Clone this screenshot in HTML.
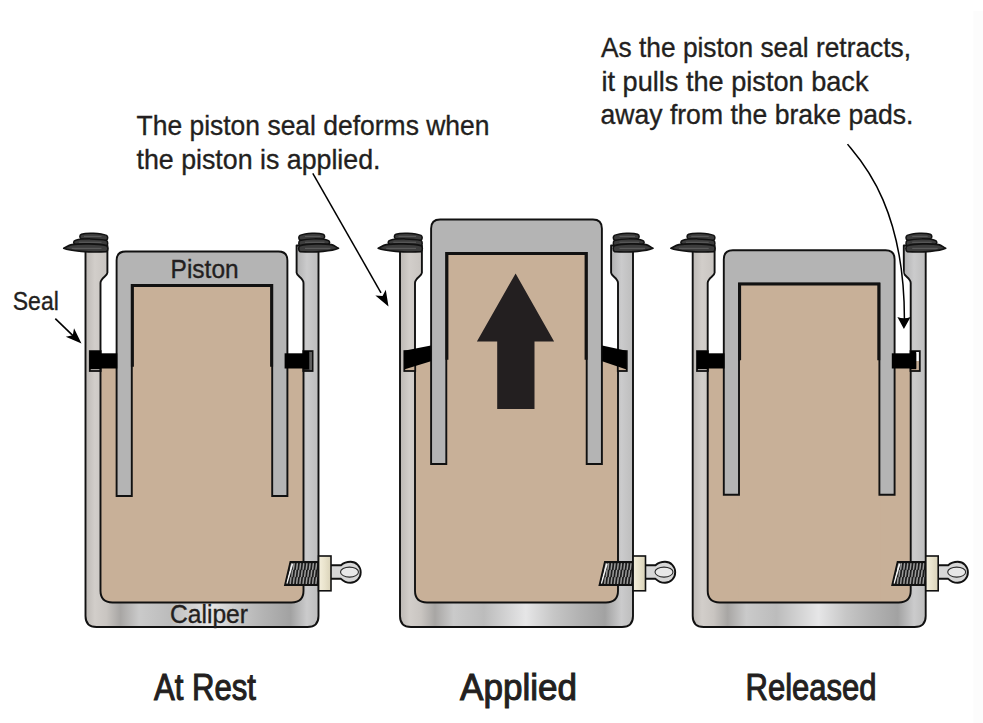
<!DOCTYPE html><html><head><meta charset="utf-8"><style>html,body{margin:0;padding:0;background:#fff;}svg{display:block;}</style></head><body><svg width="983" height="723" viewBox="0 0 983 723">
<defs>
<linearGradient id="calga" gradientUnits="userSpaceOnUse" x1="85.5" y1="0" x2="318.5" y2="0"><stop offset="0" stop-color="#BDB9B5"/><stop offset="0.04" stop-color="#D2CECA"/><stop offset="0.09" stop-color="#C9C5C1"/><stop offset="0.15" stop-color="#A8A6A4"/><stop offset="0.23" stop-color="#CACACA"/><stop offset="0.36" stop-color="#BCBCBC"/><stop offset="0.54" stop-color="#E6E6E7"/><stop offset="0.66" stop-color="#C6C6C6"/><stop offset="0.76" stop-color="#B4B4B4"/><stop offset="0.88" stop-color="#A2A2A2"/><stop offset="0.95" stop-color="#CBCBCC"/><stop offset="1" stop-color="#BDBDBD"/></linearGradient>
<linearGradient id="calgb" gradientUnits="userSpaceOnUse" x1="400" y1="0" x2="633" y2="0"><stop offset="0" stop-color="#BDB9B5"/><stop offset="0.04" stop-color="#D2CECA"/><stop offset="0.09" stop-color="#C9C5C1"/><stop offset="0.15" stop-color="#A8A6A4"/><stop offset="0.23" stop-color="#CACACA"/><stop offset="0.36" stop-color="#BCBCBC"/><stop offset="0.54" stop-color="#E6E6E7"/><stop offset="0.66" stop-color="#C6C6C6"/><stop offset="0.76" stop-color="#B4B4B4"/><stop offset="0.88" stop-color="#A2A2A2"/><stop offset="0.95" stop-color="#CBCBCC"/><stop offset="1" stop-color="#BDBDBD"/></linearGradient>
<linearGradient id="calgc" gradientUnits="userSpaceOnUse" x1="692.7" y1="0" x2="925.7" y2="0"><stop offset="0" stop-color="#BDB9B5"/><stop offset="0.04" stop-color="#D2CECA"/><stop offset="0.09" stop-color="#C9C5C1"/><stop offset="0.15" stop-color="#A8A6A4"/><stop offset="0.23" stop-color="#CACACA"/><stop offset="0.36" stop-color="#BCBCBC"/><stop offset="0.54" stop-color="#E6E6E7"/><stop offset="0.66" stop-color="#C6C6C6"/><stop offset="0.76" stop-color="#B4B4B4"/><stop offset="0.88" stop-color="#A2A2A2"/><stop offset="0.95" stop-color="#CBCBCC"/><stop offset="1" stop-color="#BDBDBD"/></linearGradient>
<linearGradient id="nutg" x1="0" y1="0" x2="1" y2="0"><stop offset="0" stop-color="#F4EFDD"/><stop offset="0.5" stop-color="#E9E3CC"/><stop offset="1" stop-color="#D9D2B8"/></linearGradient>
<linearGradient id="gwb" x1="0" y1="0" x2="0" y2="1"><stop offset="0" stop-color="#fff"/><stop offset="0.48" stop-color="#fff"/><stop offset="0.48" stop-color="#C8B098"/><stop offset="1" stop-color="#C8B098"/></linearGradient>
<linearGradient id="gdk" x1="0" y1="0" x2="1" y2="0"><stop offset="0" stop-color="#222"/><stop offset="0.6" stop-color="#333"/><stop offset="1" stop-color="#9a9a9a"/></linearGradient>
</defs>
<rect width="983" height="723" fill="#fff"/><rect x="973.5" y="11" width="10" height="712" fill="#FCFCFC"/>
<path d="M100,360 L304,360 L304,590 Q304,603 291,603 L113,603 Q100,603 100,590 Z" fill="#C8B098"/>
<path d="M85.5,245.5 L107.4,245.5 L107.4,272.8 C107.4,276 100.5,278 100.5,283 L100.5,590.8 Q100.5,602.5 112.5,602.5 L291.5,602.5 Q303.5,602.5 303.5,590.8 L303.5,283 C303.5,278 296.6,276 296.6,272.8 L296.6,245.5 L318.5,245.5 L318.5,616 Q318.5,627 307.5,627 L96.5,627 Q85.5,627 85.5,616 Z" fill="url(#calga)" stroke="#111" stroke-width="1.9" stroke-linejoin="round"/>
<rect x="131" y="285" width="142" height="315" fill="#C8B098"/>
<path d="M116.6,496 L116.6,260.5 Q116.6,251.5 125.6,251.5 L278.4,251.5 Q287.4,251.5 287.4,260.5 L287.4,496 L272.2,496 L272.2,285 L131.8,285 L131.8,496 Z" fill="#B4B4B4" stroke="#111" stroke-width="1.9" stroke-linejoin="miter"/>
<path d="M132.4,366.8 L132.4,285.4 L271.6,285.4 L271.6,366.8" fill="none" stroke="#111" stroke-width="3.0"/>
<rect x="89.8" y="351.1" width="10.9" height="19.9" fill="none" stroke="#111" stroke-width="1.8"/>
<rect x="89.8" y="353.3" width="27.5" height="15.2" fill="#000"/>
<rect x="89.8" y="351.1" width="10.9" height="18.1" fill="#000"/>
<rect x="303.3" y="351.1" width="9.3" height="19.9" fill="url(#gdk)" stroke="#111" stroke-width="1.8"/>
<rect x="284.6" y="353.3" width="24.4" height="15.2" fill="#000"/>
<rect x="303.3" y="351.1" width="5.7" height="18.1" fill="#000"/>
<path d="M106.5,240.2 C108.1,239 108.1,236.4 106.5,235.4 C100.5,232.8 86,232.6 81.5,234.2 C79.4,235 79.4,237.6 81,238.6 C86,240.6 98.5,240.8 106.5,240.2 Z" fill="#3C3C3C" stroke="#111" stroke-width="1.5" stroke-linejoin="round"/>
<path d="M101.5,236.4 L84,236.4" stroke="#5C5C5C" stroke-width="1.1"/>
<path d="M106.5,246 C108.1,244.6 108.1,241.6 106.5,240.4 C98.5,238.4 81.8,238.4 75.8,240.2 C73,241 73,243.4 75.3,244.4 C81.8,246.4 98.5,246.6 106.5,246 Z" fill="#3C3C3C" stroke="#111" stroke-width="1.5" stroke-linejoin="round"/>
<path d="M101.5,242.3 L78.8,242.3" stroke="#5C5C5C" stroke-width="1.1"/>
<path d="M106.5,251.6 C108.3,250.4 108.3,246.8 106.5,245.6 C98.5,243.6 79.8,243.4 71.8,244.6 C68.8,245.2 66.7,246.8 63.7,248.3 C69.7,251 90.5,252.8 106.5,251.6 Z" fill="#3C3C3C" stroke="#111" stroke-width="1.6" stroke-linejoin="round"/>
<path d="M101.5,248.4 L71.7,248.4" stroke="#5C5C5C" stroke-width="1.1"/>
<path d="M300,240.2 C298.4,239 298.4,236.4 300,235.4 C306,232.8 318.5,232.6 323,234.2 C325.1,235 325.1,237.6 323.5,238.6 C318.5,240.6 308,240.8 300,240.2 Z" fill="#3C3C3C" stroke="#111" stroke-width="1.5" stroke-linejoin="round"/>
<path d="M305,236.4 L320.5,236.4" stroke="#5C5C5C" stroke-width="1.1"/>
<path d="M300,246 C298.4,244.6 298.4,241.6 300,240.4 C308,238.4 321.5,238.4 327.5,240.2 C330.3,241 330.3,243.4 328,244.4 C321.5,246.4 308,246.6 300,246 Z" fill="#3C3C3C" stroke="#111" stroke-width="1.5" stroke-linejoin="round"/>
<path d="M305,242.3 L324.5,242.3" stroke="#5C5C5C" stroke-width="1.1"/>
<path d="M300,251.6 C298.2,250.4 298.2,246.8 300,245.6 C308,243.6 323.5,243.4 331.5,244.6 C334.5,245.2 335.5,246.8 338.5,248.3 C332.5,251 316,252.8 300,251.6 Z" fill="#3C3C3C" stroke="#111" stroke-width="1.6" stroke-linejoin="round"/>
<path d="M305,248.4 L330.5,248.4" stroke="#5C5C5C" stroke-width="1.1"/>
<clipPath id="thra"><path d="M290.4,562 L318.3,562 L318.3,585 L285,585 Z"/></clipPath>
<path d="M290.4,562 L318.3,562 L318.3,585 L285,585 Z" fill="#1a1a1a"/>
<path clip-path="url(#thra)" d="M290.9,563.8 L290.3,569.2 M294.1,563.8 L293.5,569.2 M297.3,563.8 L296.7,569.2 M300.5,563.8 L299.9,569.2 M303.7,563.8 L303.1,569.2 M306.9,563.8 L306.3,569.2 M310.1,563.8 L309.5,569.2 M313.3,563.8 L312.7,569.2 M316.5,563.8 L315.9,569.2 M319.7,563.8 L319.1,569.2 M292.5,570.6 L291.9,576.4 M295.7,570.6 L295.1,576.4 M298.9,570.6 L298.3,576.4 M302.1,570.6 L301.5,576.4 M305.3,570.6 L304.7,576.4 M308.5,570.6 L307.9,576.4 M311.7,570.6 L311.1,576.4 M314.9,570.6 L314.3,576.4 M318.1,570.6 L317.5,576.4 M321.3,570.6 L320.7,576.4 M290.9,577.8 L290.3,583.4 M294.1,577.8 L293.5,583.4 M297.3,577.8 L296.7,583.4 M300.5,577.8 L299.9,583.4 M303.7,577.8 L303.1,583.4 M306.9,577.8 L306.3,583.4 M310.1,577.8 L309.5,583.4 M313.3,577.8 L312.7,583.4 M316.5,577.8 L315.9,583.4 M319.7,577.8 L319.1,583.4" stroke="#9a9a9a" stroke-width="1.5" stroke-linecap="round" fill="none"/>
<path d="M286.7,583.6 L292.5,563.6" stroke="#f4f4f4" stroke-width="1.7"/>
<path d="M290.4,562 L318.3,562 L318.3,585 L285,585 Z" fill="none" stroke="#111" stroke-width="1.8"/>
<path d="M330,565.3 L341,565.3 C343,563.5 346,561.8 350.5,561.8 C356.3,561.8 360.7,566.4 360.7,572.2 C360.7,578 356.3,582.7 350.5,582.7 C346,582.7 343,580.8 341,578.8 L330,578.8 Z" fill="#D7D7D7" stroke="#111" stroke-width="1.9" stroke-linejoin="round"/>
<ellipse cx="349.5" cy="572.1" rx="9" ry="5" fill="#E8E8E8" stroke="#2a2a2a" stroke-width="1.1"/>
<rect x="318.6" y="556" width="12.4" height="34.8" fill="url(#nutg)" stroke="#111" stroke-width="1.6"/>
<path d="M414.5,360 L618.5,360 L618.5,590 Q618.5,603 605.5,603 L427.5,603 Q414.5,603 414.5,590 Z" fill="#C8B098"/>
<path d="M400,245.5 L421.9,245.5 L421.9,272.8 C421.9,276 415,278 415,283 L415,590.8 Q415,602.5 427,602.5 L606,602.5 Q618,602.5 618,590.8 L618,283 C618,278 611.1,276 611.1,272.8 L611.1,245.5 L633,245.5 L633,616 Q633,627 622,627 L411,627 Q400,627 400,616 Z" fill="url(#calgb)" stroke="#111" stroke-width="1.9" stroke-linejoin="round"/>
<rect x="445.5" y="253" width="142" height="347" fill="#C8B098"/>
<path d="M431.1,464 L431.1,228.5 Q431.1,219.5 440.1,219.5 L592.9,219.5 Q601.9,219.5 601.9,228.5 L601.9,464 L586.7,464 L586.7,253 L446.3,253 L446.3,464 Z" fill="#B4B4B4" stroke="#111" stroke-width="1.9" stroke-linejoin="miter"/>
<path d="M446.9,359.7 L446.9,253.4 L586.1,253.4 L586.1,359.7" fill="none" stroke="#111" stroke-width="3.0"/>
<rect x="404.3" y="351.1" width="10.9" height="19.9" fill="#C8B098" stroke="#111" stroke-width="1.8"/>
<path d="M404.1,350.8 L430.9,345.4 L430.9,361.2 L404.1,369.4 Z" fill="#000"/>
<rect x="617.8" y="351.1" width="9" height="19.9" fill="#C8B098" stroke="#111" stroke-width="1.8"/>
<path d="M626.5,350.8 L602.1,345.4 L602.1,361.2 L626.5,369.4 Z" fill="#000"/>
<path d="M421,240.2 C422.6,239 422.6,236.4 421,235.4 C415,232.8 400.5,232.6 396,234.2 C393.9,235 393.9,237.6 395.5,238.6 C400.5,240.6 413,240.8 421,240.2 Z" fill="#3C3C3C" stroke="#111" stroke-width="1.5" stroke-linejoin="round"/>
<path d="M416,236.4 L398.5,236.4" stroke="#5C5C5C" stroke-width="1.1"/>
<path d="M421,246 C422.6,244.6 422.6,241.6 421,240.4 C413,238.4 396.3,238.4 390.3,240.2 C387.5,241 387.5,243.4 389.8,244.4 C396.3,246.4 413,246.6 421,246 Z" fill="#3C3C3C" stroke="#111" stroke-width="1.5" stroke-linejoin="round"/>
<path d="M416,242.3 L393.3,242.3" stroke="#5C5C5C" stroke-width="1.1"/>
<path d="M421,251.6 C422.8,250.4 422.8,246.8 421,245.6 C413,243.6 394.3,243.4 386.3,244.6 C383.3,245.2 381.2,246.8 378.2,248.3 C384.2,251 405,252.8 421,251.6 Z" fill="#3C3C3C" stroke="#111" stroke-width="1.6" stroke-linejoin="round"/>
<path d="M416,248.4 L386.2,248.4" stroke="#5C5C5C" stroke-width="1.1"/>
<path d="M614.5,240.2 C612.9,239 612.9,236.4 614.5,235.4 C620.5,232.8 633,232.6 637.5,234.2 C639.6,235 639.6,237.6 638,238.6 C633,240.6 622.5,240.8 614.5,240.2 Z" fill="#3C3C3C" stroke="#111" stroke-width="1.5" stroke-linejoin="round"/>
<path d="M619.5,236.4 L635,236.4" stroke="#5C5C5C" stroke-width="1.1"/>
<path d="M614.5,246 C612.9,244.6 612.9,241.6 614.5,240.4 C622.5,238.4 636,238.4 642,240.2 C644.8,241 644.8,243.4 642.5,244.4 C636,246.4 622.5,246.6 614.5,246 Z" fill="#3C3C3C" stroke="#111" stroke-width="1.5" stroke-linejoin="round"/>
<path d="M619.5,242.3 L639,242.3" stroke="#5C5C5C" stroke-width="1.1"/>
<path d="M614.5,251.6 C612.7,250.4 612.7,246.8 614.5,245.6 C622.5,243.6 638,243.4 646,244.6 C649,245.2 650,246.8 653,248.3 C647,251 630.5,252.8 614.5,251.6 Z" fill="#3C3C3C" stroke="#111" stroke-width="1.6" stroke-linejoin="round"/>
<path d="M619.5,248.4 L645,248.4" stroke="#5C5C5C" stroke-width="1.1"/>
<path d="M515.6,273.5 L476.9,341.4 L497.2,341.4 L497.2,409 L534.5,409 L534.5,341.4 L554.1,341.4 Z" fill="#231F20"/>
<clipPath id="thrb"><path d="M604.9,562 L632.8,562 L632.8,585 L599.5,585 Z"/></clipPath>
<path d="M604.9,562 L632.8,562 L632.8,585 L599.5,585 Z" fill="#1a1a1a"/>
<path clip-path="url(#thrb)" d="M605.4,563.8 L604.8,569.2 M608.6,563.8 L608,569.2 M611.8,563.8 L611.2,569.2 M615,563.8 L614.4,569.2 M618.2,563.8 L617.6,569.2 M621.4,563.8 L620.8,569.2 M624.6,563.8 L624,569.2 M627.8,563.8 L627.2,569.2 M631,563.8 L630.4,569.2 M634.2,563.8 L633.6,569.2 M607,570.6 L606.4,576.4 M610.2,570.6 L609.6,576.4 M613.4,570.6 L612.8,576.4 M616.6,570.6 L616,576.4 M619.8,570.6 L619.2,576.4 M623,570.6 L622.4,576.4 M626.2,570.6 L625.6,576.4 M629.4,570.6 L628.8,576.4 M632.6,570.6 L632,576.4 M635.8,570.6 L635.2,576.4 M605.4,577.8 L604.8,583.4 M608.6,577.8 L608,583.4 M611.8,577.8 L611.2,583.4 M615,577.8 L614.4,583.4 M618.2,577.8 L617.6,583.4 M621.4,577.8 L620.8,583.4 M624.6,577.8 L624,583.4 M627.8,577.8 L627.2,583.4 M631,577.8 L630.4,583.4 M634.2,577.8 L633.6,583.4" stroke="#9a9a9a" stroke-width="1.5" stroke-linecap="round" fill="none"/>
<path d="M601.2,583.6 L607,563.6" stroke="#f4f4f4" stroke-width="1.7"/>
<path d="M604.9,562 L632.8,562 L632.8,585 L599.5,585 Z" fill="none" stroke="#111" stroke-width="1.8"/>
<path d="M644.5,565.3 L655.5,565.3 C657.5,563.5 660.5,561.8 665,561.8 C670.8,561.8 675.2,566.4 675.2,572.2 C675.2,578 670.8,582.7 665,582.7 C660.5,582.7 657.5,580.8 655.5,578.8 L644.5,578.8 Z" fill="#D7D7D7" stroke="#111" stroke-width="1.9" stroke-linejoin="round"/>
<ellipse cx="664" cy="572.1" rx="9" ry="5" fill="#E8E8E8" stroke="#2a2a2a" stroke-width="1.1"/>
<rect x="633.1" y="556" width="12.4" height="34.8" fill="url(#nutg)" stroke="#111" stroke-width="1.6"/>
<path d="M707.2,360 L911.2,360 L911.2,590 Q911.2,603 898.2,603 L720.2,603 Q707.2,603 707.2,590 Z" fill="#C8B098"/>
<path d="M692.7,245.5 L714.6,245.5 L714.6,272.8 C714.6,276 707.7,278 707.7,283 L707.7,590.8 Q707.7,602.5 719.7,602.5 L898.7,602.5 Q910.7,602.5 910.7,590.8 L910.7,283 C910.7,278 903.8,276 903.8,272.8 L903.8,245.5 L925.7,245.5 L925.7,616 Q925.7,627 914.7,627 L703.7,627 Q692.7,627 692.7,616 Z" fill="url(#calgc)" stroke="#111" stroke-width="1.9" stroke-linejoin="round"/>
<rect x="738.2" y="283.7" width="142" height="316.3" fill="#C8B098"/>
<path d="M723.8,494.7 L723.8,259.2 Q723.8,250.2 732.8,250.2 L885.6,250.2 Q894.6,250.2 894.6,259.2 L894.6,494.7 L879.4,494.7 L879.4,283.7 L739,283.7 L739,494.7 Z" fill="#B4B4B4" stroke="#111" stroke-width="1.9" stroke-linejoin="miter"/>
<path d="M739.6,360.3 L739.6,284.1 L878.8,284.1 L878.8,360.3" fill="none" stroke="#111" stroke-width="3.0"/>
<rect x="697" y="351.1" width="10.9" height="19.9" fill="none" stroke="#111" stroke-width="1.8"/>
<rect x="697" y="353.3" width="27.5" height="15.2" fill="#000"/>
<rect x="697" y="351.1" width="10.9" height="18.1" fill="#000"/>
<rect x="910.5" y="351.1" width="9.3" height="19.9" fill="url(#gwb)" stroke="#111" stroke-width="1.8"/>
<rect x="891.8" y="353.3" width="24.4" height="15.2" fill="#000"/>
<rect x="910.5" y="351.1" width="5.7" height="18.1" fill="#000"/>
<path d="M713.7,240.2 C715.3,239 715.3,236.4 713.7,235.4 C707.7,232.8 693.2,232.6 688.7,234.2 C686.6,235 686.6,237.6 688.2,238.6 C693.2,240.6 705.7,240.8 713.7,240.2 Z" fill="#3C3C3C" stroke="#111" stroke-width="1.5" stroke-linejoin="round"/>
<path d="M708.7,236.4 L691.2,236.4" stroke="#5C5C5C" stroke-width="1.1"/>
<path d="M713.7,246 C715.3,244.6 715.3,241.6 713.7,240.4 C705.7,238.4 689,238.4 683,240.2 C680.2,241 680.2,243.4 682.5,244.4 C689,246.4 705.7,246.6 713.7,246 Z" fill="#3C3C3C" stroke="#111" stroke-width="1.5" stroke-linejoin="round"/>
<path d="M708.7,242.3 L686,242.3" stroke="#5C5C5C" stroke-width="1.1"/>
<path d="M713.7,251.6 C715.5,250.4 715.5,246.8 713.7,245.6 C705.7,243.6 687,243.4 679,244.6 C676,245.2 673.9,246.8 670.9,248.3 C676.9,251 697.7,252.8 713.7,251.6 Z" fill="#3C3C3C" stroke="#111" stroke-width="1.6" stroke-linejoin="round"/>
<path d="M708.7,248.4 L678.9,248.4" stroke="#5C5C5C" stroke-width="1.1"/>
<path d="M907.2,240.2 C905.6,239 905.6,236.4 907.2,235.4 C913.2,232.8 925.7,232.6 930.2,234.2 C932.3,235 932.3,237.6 930.7,238.6 C925.7,240.6 915.2,240.8 907.2,240.2 Z" fill="#3C3C3C" stroke="#111" stroke-width="1.5" stroke-linejoin="round"/>
<path d="M912.2,236.4 L927.7,236.4" stroke="#5C5C5C" stroke-width="1.1"/>
<path d="M907.2,246 C905.6,244.6 905.6,241.6 907.2,240.4 C915.2,238.4 928.7,238.4 934.7,240.2 C937.5,241 937.5,243.4 935.2,244.4 C928.7,246.4 915.2,246.6 907.2,246 Z" fill="#3C3C3C" stroke="#111" stroke-width="1.5" stroke-linejoin="round"/>
<path d="M912.2,242.3 L931.7,242.3" stroke="#5C5C5C" stroke-width="1.1"/>
<path d="M907.2,251.6 C905.4,250.4 905.4,246.8 907.2,245.6 C915.2,243.6 930.7,243.4 938.7,244.6 C941.7,245.2 942.7,246.8 945.7,248.3 C939.7,251 923.2,252.8 907.2,251.6 Z" fill="#3C3C3C" stroke="#111" stroke-width="1.6" stroke-linejoin="round"/>
<path d="M912.2,248.4 L937.7,248.4" stroke="#5C5C5C" stroke-width="1.1"/>
<clipPath id="thrc"><path d="M897.6,562 L925.5,562 L925.5,585 L892.2,585 Z"/></clipPath>
<path d="M897.6,562 L925.5,562 L925.5,585 L892.2,585 Z" fill="#1a1a1a"/>
<path clip-path="url(#thrc)" d="M898.1,563.8 L897.5,569.2 M901.3,563.8 L900.7,569.2 M904.5,563.8 L903.9,569.2 M907.7,563.8 L907.1,569.2 M910.9,563.8 L910.3,569.2 M914.1,563.8 L913.5,569.2 M917.3,563.8 L916.7,569.2 M920.5,563.8 L919.9,569.2 M923.7,563.8 L923.1,569.2 M926.9,563.8 L926.3,569.2 M899.7,570.6 L899.1,576.4 M902.9,570.6 L902.3,576.4 M906.1,570.6 L905.5,576.4 M909.3,570.6 L908.7,576.4 M912.5,570.6 L911.9,576.4 M915.7,570.6 L915.1,576.4 M918.9,570.6 L918.3,576.4 M922.1,570.6 L921.5,576.4 M925.3,570.6 L924.7,576.4 M928.5,570.6 L927.9,576.4 M898.1,577.8 L897.5,583.4 M901.3,577.8 L900.7,583.4 M904.5,577.8 L903.9,583.4 M907.7,577.8 L907.1,583.4 M910.9,577.8 L910.3,583.4 M914.1,577.8 L913.5,583.4 M917.3,577.8 L916.7,583.4 M920.5,577.8 L919.9,583.4 M923.7,577.8 L923.1,583.4 M926.9,577.8 L926.3,583.4" stroke="#9a9a9a" stroke-width="1.5" stroke-linecap="round" fill="none"/>
<path d="M893.9,583.6 L899.7,563.6" stroke="#f4f4f4" stroke-width="1.7"/>
<path d="M897.6,562 L925.5,562 L925.5,585 L892.2,585 Z" fill="none" stroke="#111" stroke-width="1.8"/>
<path d="M937.2,565.3 L948.2,565.3 C950.2,563.5 953.2,561.8 957.7,561.8 C963.5,561.8 967.9,566.4 967.9,572.2 C967.9,578 963.5,582.7 957.7,582.7 C953.2,582.7 950.2,580.8 948.2,578.8 L937.2,578.8 Z" fill="#D7D7D7" stroke="#111" stroke-width="1.9" stroke-linejoin="round"/>
<ellipse cx="956.7" cy="572.1" rx="9" ry="5" fill="#E8E8E8" stroke="#2a2a2a" stroke-width="1.1"/>
<rect x="925.8" y="556" width="12.4" height="34.8" fill="url(#nutg)" stroke="#111" stroke-width="1.6"/>
<text x="136.5" y="134.5" font-size="28.5" font-weight="normal" textLength="353" lengthAdjust="spacingAndGlyphs" stroke="#231F20" stroke-width="0.35" font-family="Liberation Sans, sans-serif" fill="#231F20">The piston seal deforms when</text>
<text x="136.5" y="168.5" font-size="28.5" font-weight="normal" textLength="244" lengthAdjust="spacingAndGlyphs" stroke="#231F20" stroke-width="0.35" font-family="Liberation Sans, sans-serif" fill="#231F20">the piston is applied.</text>
<text x="601" y="56.9" font-size="28.5" font-weight="normal" textLength="310" lengthAdjust="spacingAndGlyphs" stroke="#231F20" stroke-width="0.35" font-family="Liberation Sans, sans-serif" fill="#231F20">As the piston seal retracts,</text>
<text x="601.5" y="90.7" font-size="28.5" font-weight="normal" textLength="267" lengthAdjust="spacingAndGlyphs" stroke="#231F20" stroke-width="0.35" font-family="Liberation Sans, sans-serif" fill="#231F20">it pulls the piston back</text>
<text x="600.5" y="124.4" font-size="28.5" font-weight="normal" textLength="313" lengthAdjust="spacingAndGlyphs" stroke="#231F20" stroke-width="0.35" font-family="Liberation Sans, sans-serif" fill="#231F20">away from the brake pads.</text>
<text x="12.8" y="309.5" font-size="25" font-weight="normal" textLength="46" lengthAdjust="spacingAndGlyphs" stroke="#231F20" stroke-width="0.35" font-family="Liberation Sans, sans-serif" fill="#231F20">Seal</text>
<text x="170.6" y="278" font-size="25" font-weight="normal" textLength="68" lengthAdjust="spacingAndGlyphs" stroke="#231F20" stroke-width="0.35" font-family="Liberation Sans, sans-serif" fill="#231F20">Piston</text>
<text x="170" y="623" font-size="25" font-weight="normal" textLength="78" lengthAdjust="spacingAndGlyphs" stroke="#231F20" stroke-width="0.35" font-family="Liberation Sans, sans-serif" fill="#231F20">Caliper</text>
<text x="154" y="699.6" font-size="36.5" font-weight="normal" textLength="102" lengthAdjust="spacingAndGlyphs" stroke="#231F20" stroke-width="1.05" font-family="Liberation Sans, sans-serif" fill="#231F20">At Rest</text>
<text x="460" y="699.6" font-size="36.5" font-weight="normal" textLength="117" lengthAdjust="spacingAndGlyphs" stroke="#231F20" stroke-width="1.05" font-family="Liberation Sans, sans-serif" fill="#231F20">Applied</text>
<text x="745.5" y="699.5" font-size="36.5" font-weight="normal" textLength="131" lengthAdjust="spacingAndGlyphs" stroke="#231F20" stroke-width="1.05" font-family="Liberation Sans, sans-serif" fill="#231F20">Released</text>
<path d="M55.3,318.7 L75,337.6" stroke="#000" stroke-width="1.6"/>
<path d="M81.5,343.5 L65.76,336.84 L72.8,335.24 L74.02,328.13 Z" fill="#000"/>
<path d="M312.8,173.3 L381,292.8" stroke="#000" stroke-width="1.5"/>
<path d="M388.5,306.5 L375.36,295.57 L382.55,296.08 L385.78,289.63 Z" fill="#000"/>
<path d="M847.5,144.1 C857.3,156.7 904.5,202 904.4,319" fill="none" stroke="#fff" stroke-width="3.2"/>
<path d="M847.5,144.1 C857.3,156.7 904.5,202 904.4,319" fill="none" stroke="#000" stroke-width="1.5"/>
<path d="M903.9,329 L897.4,317 Q904,319.5 910.6,317 Z" fill="#000"/>
</svg></body></html>
